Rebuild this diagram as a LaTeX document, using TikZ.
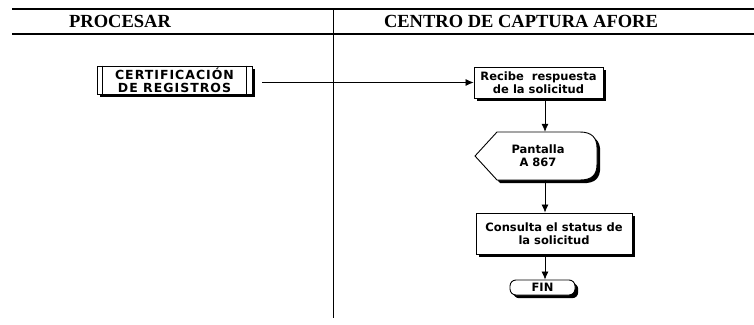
\documentclass[tikz,border=0pt]{standalone}
\usepackage{fontspec}
\setmainfont{Liberation Serif}
\newfontfamily\boxfont{DejaVu Sans}
\newfontfamily\capsfont[LetterSpace=8]{DejaVu Sans}
\usetikzlibrary{arrows.meta,shadows}
\newcommand\dispshape[1]{\path[#1] (475,156) -- (497,132) -- (580,132) .. controls (592,132) and (597,138) .. (597,148) -- (597,164) .. controls (597,175) and (592,180) .. (580,180) -- (497,180) -- cycle;}
\begin{document}
\begin{tikzpicture}[x=1pt,y=-1pt,
  hdr/.style={font=\fontsize{18.5}{20}\selectfont\bfseries},
  boxtxt/.style={font=\boxfont\bfseries\fontsize{11.5}{13}\selectfont, align=center, inner sep=0pt},
  procbox/.style={boxtxt, draw, fill=white, line width=0.9pt},
  shad/.style={drop shadow={opacity=1, fill=black, shadow xshift=3.2pt, shadow yshift=-3.2pt}},
  arr/.style={-{Latex[length=8pt,width=7pt]}, line width=0.8pt},
  rule/.style={line width=1.4pt},
]
\path[use as bounding box, fill=white] (0,0) rectangle (754,324);
% header
\draw[rule] (12,9) -- (754,9);
\draw[rule] (12,34) -- (754,34);
\draw[line width=1pt] (333,9) -- (333,318);
\node[hdr] (h1) at (120,21.5) {PROCESAR};
\node[hdr] (h2) at (521,21.5) {CENTRO DE CAPTURA AFORE};
% column coordinate
\coordinate (col) at (545,0);
% predefined process
\node[procbox, shad, font=\capsfont\bfseries\fontsize{12.5}{13}\selectfont, minimum width=155pt, minimum height=28pt] (cert) at (174.5,80) {CERTIFICACIÓN\\DE REGISTROS};
\draw[line width=0.9pt] ([xshift=6pt]cert.north west) -- ([xshift=6pt]cert.south west);
\draw[line width=0.9pt] ([xshift=-6pt]cert.north east) -- ([xshift=-6pt]cert.south east);
% recibe
\node[procbox, shad, minimum width=129pt, minimum height=31pt] (recibe) at (538.5,82.5) {Recibe\ \ respuesta\\de la solicitud};
% pantalla display
\begin{scope}[xshift=3.2pt,yshift=-3.2pt]\dispshape{fill=black}\end{scope}
\dispshape{draw, fill=white, line width=0.9pt}
\node[boxtxt, minimum width=122pt, minimum height=48pt] (pant) at (536,156) {\hspace*{4pt}Pantalla\\\hspace*{4pt}A 867};
% consulta
\node[procbox, shad, minimum width=156pt, minimum height=41pt] (cons) at (554,233.5) {Consulta el status de\\la solicitud};
% fin
\node[procbox, shad, rounded corners=6pt, minimum width=65pt, minimum height=15pt] (fin) at (542.5,287.5) {FIN};
% connectors
\draw[arr, shorten <=10pt] (cert.east |- recibe.west) -- (recibe.west);
\draw[arr] (recibe.south -| col) -- (pant.north -| col);
\draw[arr] (pant.south -| col) -- (cons.north -| col);
\draw[arr] (cons.south -| col) -- (fin.north -| col);
\end{tikzpicture}
\end{document}
